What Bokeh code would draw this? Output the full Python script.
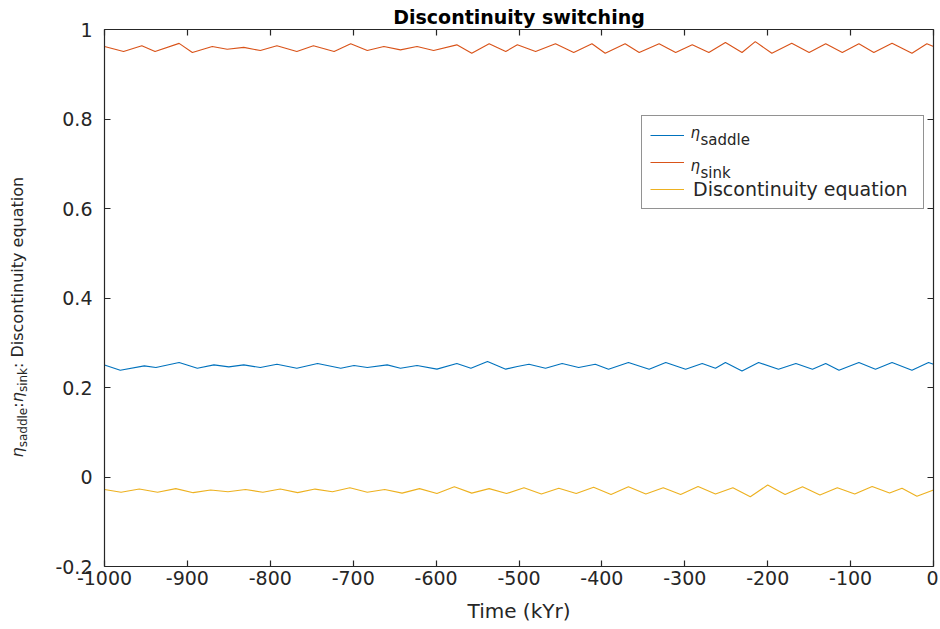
import math
from bokeh.plotting import figure
from bokeh.layouts import row
from bokeh.models import (Range1d, LinearAxis, FixedTicker, CustomJSTickFormatter,
                          Legend, LegendItem)
from bokeh.core.properties import value
from bokeh.embed import file_html
from bokeh.resources import INLINE

# ---------------- data ----------------
x_ticks = [-1000, -900, -800, -700, -600, -500, -400, -300, -200, -100, 0]
y_ticks = [-0.2, 0.0, 0.2, 0.4, 0.6, 0.8, 1.0]

sink_t = [-1000, -977, -955, -939, -910, -894, -870, -852, -832, -812,
          -792, -768, -748, -723, -703, -683, -663, -643, -623, -603,
          -575, -557, -536, -516, -502, -480, -456, -434, -412, -396,
          -372, -355, -331, -311, -291, -271, -251, -231, -215, -195,
          -171, -150, -130, -110, -90, -72, -50, -26, -8, 0]
sink_v = [0.962, 0.951, 0.9635, 0.951, 0.969, 0.9485, 0.962, 0.956, 0.960, 0.953,
          0.9635, 0.951, 0.9635, 0.951, 0.968, 0.953, 0.962, 0.9545, 0.962, 0.953,
          0.9657, 0.947, 0.968, 0.951, 0.9657, 0.951, 0.968, 0.9485, 0.968, 0.947,
          0.968, 0.9485, 0.968, 0.9485, 0.9657, 0.9485, 0.971, 0.9485, 0.973, 0.947,
          0.9694, 0.9485, 0.968, 0.9485, 0.968, 0.9485, 0.9694, 0.947, 0.968, 0.962]

saddle_t = [-1000, -981, -952, -938, -910, -888, -868, -850, -832, -812,
            -792, -768, -743, -715, -699, -683, -659, -643, -623, -599,
            -575, -558, -538, -516, -502, -488, -468, -448, -428, -408,
            -392, -368, -343, -323, -299, -279, -263, -251, -231, -211,
            -187, -166, -146, -130, -114, -90, -70, -50, -26, -6, 0]
saddle_v = [0.2505, 0.2387, 0.2483, 0.2446, 0.2558, 0.2431, 0.2505, 0.246, 0.2505, 0.2446,
            0.252, 0.2431, 0.2535, 0.2431, 0.249, 0.2446, 0.2505, 0.2431, 0.249, 0.241,
            0.2535, 0.2431, 0.258, 0.241, 0.247, 0.252, 0.2431, 0.2535, 0.2446, 0.252,
            0.241, 0.2558, 0.241, 0.2558, 0.241, 0.2535, 0.2431, 0.2558, 0.237, 0.2558,
            0.241, 0.2535, 0.241, 0.2535, 0.2387, 0.2558, 0.241, 0.2558, 0.2387, 0.2558, 0.252]

disc_t = [-1000, -980, -958, -936, -914, -893, -872, -851, -830, -809,
          -788, -767, -746, -725, -704, -683, -662, -641, -620, -599,
          -578, -557, -536, -515, -494, -473, -452, -431, -410, -389,
          -368, -347, -326, -305, -284, -263, -242, -221, -200, -179,
          -158, -137, -116, -95, -74, -53, -38, -20, 0]
disc_v = [-0.028, -0.034, -0.027, -0.034, -0.026, -0.035, -0.029, -0.033, -0.028, -0.034,
          -0.027, -0.035, -0.027, -0.033, -0.024, -0.034, -0.028, -0.036, -0.026, -0.037,
          -0.022, -0.036, -0.026, -0.037, -0.024, -0.038, -0.025, -0.037, -0.023, -0.039,
          -0.022, -0.038, -0.024, -0.039, -0.021, -0.038, -0.024, -0.044, -0.018, -0.039,
          -0.022, -0.040, -0.024, -0.038, -0.021, -0.036, -0.025, -0.043, -0.029]

title_text = "Discontinuity switching"
c_saddle = "#0072BD"
c_sink = "#D95319"
c_disc = "#EDB120"
ink = "#262626"
FONT = "DejaVu Sans"
ETA = "\u03b7"

# ---------------- geometry (picture pixels) ----------------
LW = 40                        # width of the y-label strip
FL, FR, FT, FB = 104, 933, 29, 566
W, H = 938, 626
X0, X1, Y0, Y1 = -1000, 0, -0.2, 1.0
BT, BB = FT, H - FB

# ---------------- y-label strip ----------------
yl = figure(width=LW, height=H, x_range=Range1d(0, LW), y_range=Range1d(0, FB - FT),
            output_backend="svg", toolbar_location=None,
            x_axis_location=None, y_axis_location=None,
            min_border_left=0, min_border_right=0,
            min_border_top=BT, min_border_bottom=BB)
yl.outline_line_color = None
yl.xgrid.visible = False
yl.ygrid.visible = False
yl.background_fill_color = "white"
yl.border_fill_color = "white"

A = math.pi / 2
yl_text = [ETA, "saddle", ":", ETA, "sink", ": Discontinuity equation"]
yl_bx = [17, 22, 17, 17, 22, 17]
yl_sy = [457, 446.8, 407.2, 401.8, 391.6, 367.5]
yl_size = ["16px", "12px", "16px", "16px", "12px", "16px"]
yl_style = ["italic", "normal", "normal", "italic", "normal", "normal"]
for t, bx, sy, sz, st in zip(yl_text, yl_bx, yl_sy, yl_size, yl_style):
    yl.text(x=[bx], y=[FB - sy], text=[t], angle=A, text_align="left",
            text_baseline="alphabetic", text_font=value(FONT), text_font_size=value(sz),
            text_font_style=st, text_color=ink)

# ---------------- main figure ----------------
p = figure(width=W - LW, height=H,
           x_range=Range1d(X0, X1), y_range=Range1d(Y0, Y1),
           output_backend="svg", toolbar_location=None,
           min_border_left=FL - LW, min_border_right=W - FR,
           min_border_top=BT, min_border_bottom=BB)
p.background_fill_color = "white"
p.border_fill_color = "white"
p.outline_line_color = None
p.xgrid.visible = False
p.ygrid.visible = False

p.title.text = title_text
p.title.align = "center"
p.title.text_font = FONT
p.title.text_font_size = "19px"
p.title.text_font_style = "bold"
p.title.text_color = "black"
p.title.standoff = 3
p.title.offset = 0

r_saddle = p.line(saddle_t, saddle_v, line_color=c_saddle, line_width=1.1)
r_sink = p.line(sink_t, sink_v, line_color=c_sink, line_width=1.1)
r_disc = p.line(disc_t, disc_v, line_color=c_disc, line_width=1.1)

fmt_x = CustomJSTickFormatter(code="return tick.toFixed(0);")
fmt_y = CustomJSTickFormatter(code="var s = tick.toFixed(1); return s.replace(/\\.0$/, '');")

def style_axis(ax):
    ax.axis_line_color = ink
    ax.axis_line_width = 1.2
    ax.major_tick_line_color = ink
    ax.major_tick_line_width = 1.2
    ax.major_tick_in = 6
    ax.major_tick_out = 0
    ax.minor_tick_in = 0
    ax.minor_tick_out = 0
    ax.major_label_text_color = ink
    ax.major_label_text_font = FONT
    ax.major_label_text_font_size = "19px"

xa = p.xaxis[0]
xa.ticker = FixedTicker(ticks=x_ticks)
xa.formatter = fmt_x
style_axis(xa)
xa.major_label_standoff = 4
xa.axis_label = "Time (kYr)"
xa.axis_label_text_font = FONT
xa.axis_label_text_font_size = "20px"
xa.axis_label_text_font_style = "normal"
xa.axis_label_text_color = ink
xa.axis_label_standoff = 11

ya = p.yaxis[0]
ya.ticker = FixedTicker(ticks=y_ticks)
ya.formatter = fmt_y
style_axis(ya)
ya.major_label_standoff = 12

# mirrored box axes (ticks only, no labels)
empty = CustomJSTickFormatter(code="return '';")
ra = LinearAxis(ticker=FixedTicker(ticks=y_ticks), formatter=empty)
style_axis(ra)
ra.major_label_standoff = 0
ra.major_label_text_font_size = "0px"
p.add_layout(ra, "right")
ta = LinearAxis(ticker=FixedTicker(ticks=x_ticks), formatter=empty)
style_axis(ta)
ta.major_label_standoff = 0
ta.major_label_text_font_size = "0px"
p.add_layout(ta, "above")

# ---------------- legend ----------------
legend = Legend(items=[LegendItem(label=" ", renderers=[r_saddle]),
                       LegendItem(label=" ", renderers=[r_sink]),
                       LegendItem(label="Discontinuity equation", renderers=[r_disc])],
                location=(641 - FL, FB - 209))
legend.padding = 8
legend.spacing = 5
legend.margin = 0
legend.glyph_width = 34
legend.glyph_height = 22
legend.label_height = 22
legend.label_width = 222
legend.label_standoff = 9
legend.border_line_color = ink
legend.border_line_width = 1
legend.background_fill_alpha = 0.0
legend.label_text_font = FONT
legend.label_text_font_size = "19px"
legend.label_text_color = ink
p.add_layout(legend)

def to_x(px):
    return X0 + (px - FL) * (X1 - X0) / (FR - FL)

def to_y(py):
    return Y1 - (py - FT) * (Y1 - Y0) / (FB - FT)

# legend entry names (eta with subscripts), placed in the legend rows
lg_eta_x = [690, 690]
lg_eta_y = [132, 165]
lg_sub = ["saddle", "sink"]
lg_sub_x = [700, 700]
lg_sub_y = [139, 172]
p.text(x=[to_x(v) for v in lg_eta_x], y=[to_y(v) for v in lg_eta_y], text=[ETA, ETA],
       text_align="left", text_baseline="alphabetic", text_font=value(FONT),
       text_font_size=value("15px"), text_font_style="italic", text_color=ink)
p.text(x=[to_x(v) for v in lg_sub_x], y=[to_y(v) for v in lg_sub_y], text=lg_sub,
       text_align="left", text_baseline="alphabetic", text_font=value(FONT),
       text_font_size=value("15px"), text_color=ink)

layout = row(yl, p, spacing=0)
open("out.html", "w").write(file_html(layout, INLINE))
